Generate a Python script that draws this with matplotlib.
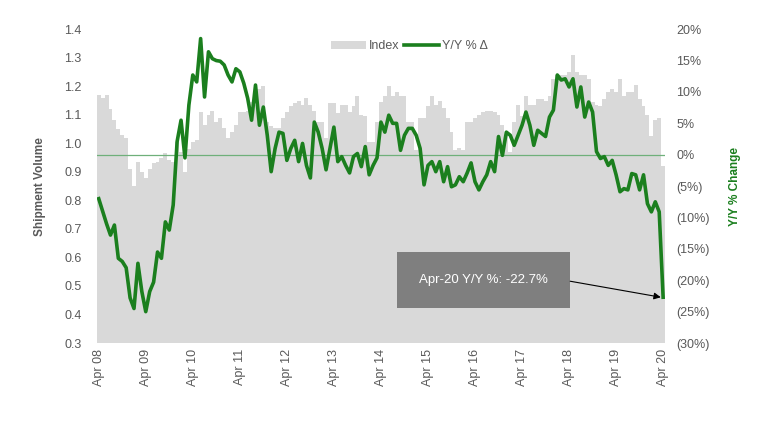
import matplotlib
matplotlib.use("Agg")
import matplotlib.pyplot as plt
import numpy as np
from matplotlib.patches import Rectangle
from matplotlib.ticker import FuncFormatter

plt.rcParams['font.family'] = ['Liberation Sans', 'DejaVu Sans']

# monthly, Apr 2008 .. Apr 2020
index_vals = [
    1.17, 1.16, 1.17, 1.12, 1.08, 1.05, 1.03, 1.02, 0.91, 0.85,
    0.935, 0.90, 0.88, 0.91, 0.93, 0.935, 0.95, 0.965, 0.94, 0.935,
    1.005, 0.97, 0.90, 0.98, 1.005, 1.01, 1.11, 1.065, 1.10, 1.115,
    1.075, 1.09, 1.055, 1.02, 1.04, 1.065, 1.11, 1.11, 1.115, 1.145,
    1.135, 1.19, 1.20, 1.075, 1.06, 1.055, 1.055, 1.09, 1.11, 1.13,
    1.14, 1.15, 1.135, 1.16, 1.135, 1.115, 1.075, 1.075, 1.02, 1.14,
    1.14, 1.105, 1.135, 1.135, 1.11, 1.13, 1.165, 1.10, 1.095, 1.005,
    1.005, 1.075, 1.145, 1.165, 1.20, 1.165, 1.18, 1.165, 1.165, 1.075,
    1.075, 0.975, 1.09, 1.09, 1.13, 1.165, 1.135, 1.15, 1.125, 1.09,
    1.04, 0.975, 0.985, 0.975, 1.075, 1.075, 1.09, 1.10, 1.11, 1.115,
    1.115, 1.11, 1.10, 1.065, 1.03, 0.97, 1.075, 1.135, 1.095, 1.165,
    1.135, 1.135, 1.155, 1.155, 1.15, 1.165, 1.225, 1.24, 1.24, 1.24,
    1.25, 1.31, 1.25, 1.24, 1.24, 1.225, 1.145, 1.135, 1.13, 1.155,
    1.18, 1.19, 1.18, 1.225, 1.165, 1.18, 1.18, 1.205, 1.155, 1.13,
    1.10, 1.025, 1.08, 1.09, 0.92,
]

yoy_pct = [
    -7.0, -9.0, -11.0, -12.8, -11.2, -16.5, -17.0, -18.0, -22.8, -24.5,
    -17.3, -21.8, -25.0, -21.8, -20.3, -15.5, -16.5, -10.7, -12.0, -8.0,
    2.1, 5.5, -0.5, 7.9, 12.7, 11.6, 18.5, 9.2, 16.4, 15.3,
    15.0, 14.9, 14.3, 12.7, 11.6, 13.7, 13.2, 11.4, 9.0, 5.5,
    11.1, 4.7, 7.6, 3.1, -2.7, 1.0, 3.6, 3.4, -0.9, 1.0,
    2.3, -1.1, 1.8, -1.7, -3.7, 5.2, 3.6, 1.0, -2.4, 1.0,
    4.4, -1.1, -0.3, -1.7, -2.9, -0.3, 0.2, -1.9, 1.3, -3.2,
    -1.7, -0.5, 5.2, 3.6, 6.3, 5.0, 5.0, 0.7, 3.1, 4.2,
    4.2, 3.1, 1.0, -4.8, -1.7, -1.1, -2.7, -1.1, -4.3, -1.9,
    -5.1, -4.8, -3.5, -4.3, -2.9, -1.3, -4.3, -5.6, -4.3, -3.2,
    -1.1, -2.7, 2.9, -0.1, 3.6, 3.1, 1.5, 3.1, 4.7, 6.8,
    4.7, 1.5, 3.9, 3.4, 2.9, 6.0, 7.1, 12.7, 11.9, 12.1,
    10.8, 12.1, 7.6, 10.8, 6.0, 8.4, 6.8, 0.5, -0.6, -0.3,
    -1.7, -0.9, -3.2, -5.9, -5.4, -5.6, -3.0, -3.2, -5.6, -3.2,
    -7.8, -9.1, -7.5, -9.1, -22.7,
]

tick_labels = ["Apr %02d" % y for y in range(8, 21)]
note_text = "Apr-20 Y/Y %: -22.7%"

txt = "#595959"
green = "#1b7f1e"

fig = plt.figure(figsize=(7.68, 4.23), dpi=100)
ax = fig.add_axes([0.126, 0.189, 0.74, 0.742])
ax2 = ax.twinx()

x = np.arange(len(index_vals))
bars = ax.bar(x, index_vals, width=1.0, color="#d9d9d9", label="Index", zorder=1)
ax.set_ylim(0.3, 1.4)
ax.set_yticks(np.arange(0.3, 1.41, 0.1))
ax.yaxis.set_major_formatter(FuncFormatter(lambda v, p: "%.1f" % v))
ax.set_xlim(-0.5, len(index_vals) - 0.5)
ax.set_xticks(np.arange(0, len(index_vals), 12))
ax.set_xticklabels(tick_labels, rotation=90)
ax.set_ylabel("Shipment Volume", fontsize=8.5, fontweight="bold", color=txt, labelpad=13)

ax2.axhline(0, color="#6fb07a", lw=0.9, zorder=2)
line, = ax2.plot(x, yoy_pct, color=green, lw=2.6, label="Y/Y % \u0394", zorder=3)
ax2.set_ylim(-30, 20)
ax2.set_yticks(np.arange(-30, 21, 5))
ax2.yaxis.set_major_formatter(FuncFormatter(
    lambda v, p: "%d%%" % v if v >= 0 else "(%d%%)" % -v))
ax2.set_ylabel("Y/Y % Change", fontsize=8.5, fontweight="bold", color=green, labelpad=14)

for a in (ax, ax2):
    for s in a.spines.values():
        s.set_visible(False)
    a.tick_params(length=0, labelsize=9, colors=txt)
ax.tick_params(axis="y", pad=11)
ax2.tick_params(axis="y", pad=8)
ax.tick_params(axis="x", pad=4)

# callout box + arrow
ax2.add_patch(Rectangle((0.528, 0.111), 0.305, 0.179, transform=ax2.transAxes,
                        facecolor="#7f7f7f", edgecolor="none", zorder=4))
ax2.text(0.68, 0.2, note_text, transform=ax2.transAxes, ha="center", va="center",
         color="white", fontsize=9.5, zorder=5)
ax2.annotate("", xy=(x[-1] - 0.6, yoy_pct[-1]), xycoords="data",
             xytext=(0.833, 0.197), textcoords="axes fraction",
             arrowprops=dict(arrowstyle="-|>", color="black", lw=0.8,
                             mutation_scale=10, shrinkA=0, shrinkB=0), zorder=6)

ax2.legend([bars, line], ["Index", "Y/Y % \u0394"], loc="upper center",
           bbox_to_anchor=(0.55, 1.0), ncol=2, frameon=False, fontsize=9,
           handlelength=2.8, columnspacing=0.3, handletextpad=0.3,
           labelcolor=txt)

fig.savefig("out.png", dpi=100)
